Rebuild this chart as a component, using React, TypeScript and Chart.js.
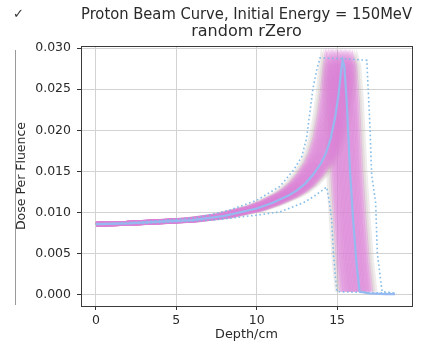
import React, { useEffect, useRef } from "react";
import { Chart, registerables } from "chart.js";

Chart.register(...registerables);

// Central Bragg curve
const depthCm = [0, 2, 4, 6, 8, 10, 11, 12, 12.5, 13, 13.5, 14, 14.3, 14.6, 14.9, 15.1, 15.25, 15.35, 15.45, 15.6, 15.8, 16.0, 16.2, 16.4, 17.0, 18.0, 18.6];
const doseCentral = [0.0086, 0.0087, 0.0089, 0.0091, 0.0096, 0.0105, 0.0112, 0.0121, 0.0127, 0.0135, 0.0146, 0.016, 0.0172, 0.019, 0.0218, 0.0245, 0.0272, 0.0285, 0.0278, 0.0235, 0.0152, 0.0091, 0.004, 0.0004, 0.0002, 0.0001, 0.0001];
const centralPeakDepth = 15.35;
const pinkTailEndIndex = 23; // pink curves stop once they reach ~0

// Peak depths of the random-rZero curves (pink band) and faint outer curves
const pinkPeakDepths = [14.3, 14.4, 14.5, 14.6, 14.68, 14.76, 14.84, 14.92, 15.0, 15.08, 15.16, 15.24, 15.32, 15.4, 15.48, 15.56, 15.64, 15.72, 15.8, 15.9, 16.0];
const fringePeakDepths = [14.05, 14.18, 16.12, 16.25];

// Dotted envelopes
const upperEnvDepth = [0, 3, 6.3, 8.3, 10.0, 11.45, 12.3, 12.8, 13.1, 13.5, 13.75, 13.94, 15.5, 16.85, 16.9, 17.05, 17.15, 17.4, 17.5, 17.8, 18.7];
const upperEnvDose = [0.0086, 0.0089, 0.0094, 0.0103, 0.0115, 0.0132, 0.0152, 0.0168, 0.019, 0.0251, 0.0275, 0.0288, 0.0287, 0.0285, 0.0264, 0.0203, 0.0146, 0.0112, 0.0051, 0.0004, 0.0002];
const lowerEnvDepth = [0, 3, 7.3, 10.0, 11.45, 12.9, 13.5, 14.0, 14.35, 14.5, 14.66, 14.77, 14.9, 15.0, 18.7];
const lowerEnvDose = [0.0086, 0.0087, 0.0091, 0.0097, 0.0101, 0.0112, 0.0119, 0.0126, 0.0131, 0.0115, 0.0091, 0.0051, 0.002, 0.0004, 0.0002];

const xTickValues = [0, 5, 10, 15];
const yTickValues = [0, 0.005, 0.01, 0.015, 0.02, 0.025, 0.03];

const titleLines = ["Proton Beam Curve, Initial Energy = 150MeV", "random rZero"];
const xLabel = "Depth/cm";
const yLabel = "Dose Per Fluence";

const FONT = "'DejaVu Sans', sans-serif";

const pts = (xs: number[], ys: number[]) => xs.map((x, i) => ({ x, y: ys[i] }));
const scaledCurve = (peak: number) =>
  depthCm.slice(0, pinkTailEndIndex + 1).map((d, i) => ({ x: (d * peak) / centralPeakDepth, y: doseCentral[i] }));

const framePlugin = {
  id: "frame",
  afterDraw(chart: any) {
    const { ctx, chartArea } = chart;
    ctx.save();
    ctx.strokeStyle = "#3a3a3a";
    ctx.lineWidth = 1;
    ctx.strokeRect(Math.round(chartArea.left) + 0.5, Math.round(chartArea.top) + 0.5, Math.round(chartArea.right - chartArea.left), Math.round(chartArea.bottom - chartArea.top));
    // surrounding notebook artefacts
    ctx.strokeStyle = "#9a9a9a";
    ctx.beginPath();
    ctx.moveTo(15.5, 50);
    ctx.lineTo(15.5, 305);
    ctx.stroke();
    ctx.fillStyle = "#333";
    ctx.font = "13px " + FONT;
    ctx.textBaseline = "middle";
    ctx.fillText("\u2713", 13, 15);
    ctx.restore();
  },
};

export default function App() {
  const ref = useRef<HTMLCanvasElement | null>(null);
  useEffect(() => {
    if (!ref.current) return;
    const datasets: any[] = [];
    datasets.push({
      data: pts(depthCm, doseCentral),
      borderColor: "rgba(150,185,240,1)",
      borderWidth: 2.2,
      pointRadius: 0,
    });
    datasets.push({
      data: pts(upperEnvDepth, upperEnvDose),
      borderColor: "rgba(125,185,232,0.95)",
      borderWidth: 1.6,
      borderDash: [1.6, 2.6],
      pointRadius: 0,
    });
    datasets.push({
      data: pts(lowerEnvDepth, lowerEnvDose),
      borderColor: "rgba(125,185,232,0.95)",
      borderWidth: 1.6,
      borderDash: [1.6, 2.6],
      pointRadius: 0,
    });
    pinkPeakDepths.forEach((p) =>
      datasets.push({
        data: scaledCurve(p),
        borderColor: "rgba(218,128,214,0.38)",
        borderWidth: 5,
        pointRadius: 0,
      })
    );
    fringePeakDepths.forEach((p) =>
      datasets.push({
        data: scaledCurve(p),
        borderColor: "rgba(195,180,180,0.25)",
        borderWidth: 5,
        pointRadius: 0,
      })
    );

    const chart = new Chart(ref.current, {
      type: "line",
      data: { datasets },
      plugins: [framePlugin],
      options: {
        animation: false,
        responsive: false,
        devicePixelRatio: 1,
        layout: { padding: { left: 0, right: 20, top: 0, bottom: 0 } },
        plugins: {
          legend: { display: false },
          tooltip: { enabled: false },
          title: {
            display: true,
            text: titleLines,
            fullSize: false,
            color: "#2a2a2a",
            font: { family: FONT, size: 16, weight: "normal", lineHeight: 1.07 },
            padding: { top: 6.5, bottom: 5.3 },
          },
        },
        elements: { line: { tension: 0 } },
        scales: {
          x: {
            type: "linear",
            min: -0.93,
            max: 19.66,
            afterFit: (s: any) => { s.height = 39; },
            afterBuildTicks: (s: any) => { s.ticks = xTickValues.map((v) => ({ value: v })); },
            ticks: {
              padding: 3,
              color: "#2a2a2a",
              font: { family: FONT, size: 12.5 },
              callback: (v: any) => String(v),
            },
            grid: { color: "#d2d2d2", lineWidth: 1, tickLength: 4, tickColor: "#333" },
            border: { display: false },
            title: {
              display: true,
              text: xLabel,
              color: "#2a2a2a",
              font: { family: FONT, size: 12.8 },
              padding: { top: 0, bottom: 3 },
            },
          },
          y: {
            type: "linear",
            min: -0.00134,
            max: 0.03024,
            afterFit: (s: any) => { s.width = 81; },
            afterBuildTicks: (s: any) => { s.ticks = yTickValues.map((v) => ({ value: v })); },
            ticks: {
              padding: 6,
              color: "#2a2a2a",
              font: { family: FONT, size: 12.5 },
              callback: (v: any) => Number(v).toFixed(3),
            },
            grid: { color: "#d2d2d2", lineWidth: 1, tickLength: 4, tickColor: "#333" },
            border: { display: false },
            title: {
              display: true,
              text: yLabel,
              color: "#2a2a2a",
              font: { family: FONT, size: 12.5 },
              padding: { top: 14.5, bottom: 0 },
            },
          },
        },
      },
    } as any);
    return () => chart.destroy();
  }, []);

  return (
    <div style={{ position: "fixed", left: 0, top: 0, width: 432, height: 345, background: "#fff" }}>
      <canvas ref={ref} width={432} height={345} style={{ display: "block" }} />
    </div>
  );
}
